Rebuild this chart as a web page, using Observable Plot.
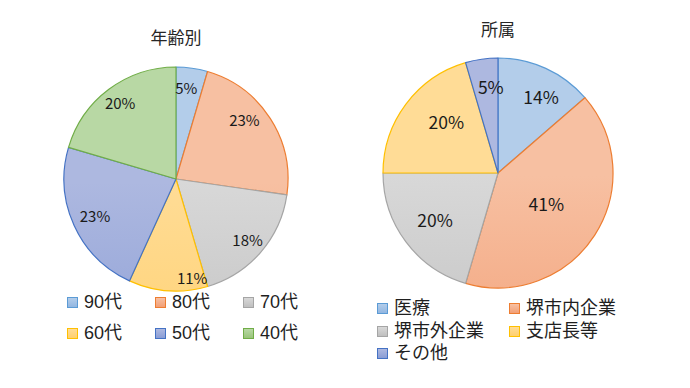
<!DOCTYPE html>
<html>
<head>
<meta charset="utf-8">
<script src="https://cdn.jsdelivr.net/npm/d3@7"></script>
<script src="https://cdn.jsdelivr.net/npm/@observablehq/plot@0.6"></script>
<style>
  html, body { margin: 0; padding: 0; background: #fff; }
  #chart { position: relative; width: 690px; height: 388px; overflow: hidden;
    font-family: "Noto Sans CJK JP", "Noto Sans", sans-serif; color: #333; }
  .abs { position: absolute; }
  .title { font-size: 17px; line-height: 1; transform: translate(-50%, -50%); white-space: nowrap; color: #262626; }
  .leg { font-family: "Liberation Sans", "Noto Sans CJK JP", sans-serif; font-size: 18px; line-height: 18px; height: 18px; white-space: nowrap; display: flex; align-items: center; transform: translateY(-50%); color: #1f1f1f; }
  .leg .tx { display: inline-block; height: 18px; line-height: 18px; }
  .sw { width: 9px; height: 9px; border: 1px solid; margin-right: 6px; box-sizing: content-box; }
</style>
</head>
<body>
<div id="chart"></div>
<script>
// ---- data ----
const ageCategories = ["90代", "80代", "70代", "60代", "50代", "40代"];
const ageCounts = [2, 10, 8, 5, 10, 9];
const orgCategories = ["医療", "堺市内企業", "堺市外企業", "支店長等", "その他"];
const orgCounts = [6, 18, 9, 9, 2];
const titles = ["年齢別", "所属"];

// ---- styles ----
const fillTop = ["#b3cdea", "#f7c0a2", "#d8d8d8", "#ffdc96", "#adb8e0", "#b8d8a4"];
const fillBottom = ["#92b6e1", "#f29f76", "#bfbfbf", "#ffd06e", "#8a9dd5", "#98c479"];
const strokeColors = ["#5b9bd5", "#ed7d31", "#a5a5a5", "#ffc000", "#4472c4", "#70ad47"];
const orgStyle = [0, 1, 2, 3, 4]; // indices into palette

const chart = document.getElementById("chart");
const pct = d3.format(".0%");

function makePie({categories, counts, paletteIdx, cx, cy, r, labelK, labelDA, fontSize, id}) {
  const total = d3.sum(counts);
  const rows = categories.map((c, i) => ({category: c, count: counts[i], p: counts[i] / total, pal: paletteIdx[i]}));
  const arcs = d3.pie().sort(null).value(d => d.count)(rows);
  arcs.forEach((a, i) => {
    a.mid = (a.startAngle + a.endAngle) / 2 + (labelDA[i] || 0) * Math.PI / 180;
    a.k = labelK[i];
  });
  const m = 3;
  const size = 2 * r + 2 * m;
  const render = (index, scales) => {
    const {x, y} = scales;
    const ox = x(0), oy = y(0), rad = x(1) - x(0);
    const g = d3.create("svg:g");
    const defs = g.append("defs");
    arcs.forEach((a, i) => {
      const lg = defs.append("linearGradient").attr("id", id + "g" + i)
        .attr("gradientUnits", "userSpaceOnUse")
        .attr("x1", 0).attr("x2", 0).attr("y1", oy - rad).attr("y2", oy + rad);
      lg.append("stop").attr("offset", 0).attr("stop-color", fillTop[a.data.pal]);
      lg.append("stop").attr("offset", 1).attr("stop-color", fillBottom[a.data.pal]);
    });
    const arcGen = d3.arc().innerRadius(0).outerRadius(rad);
    g.selectAll("path").data(index).join("path")
      .attr("transform", `translate(${ox},${oy})`)
      .attr("d", i => arcGen(arcs[i]))
      .attr("fill", i => `url(#${id}g${i})`)
      .attr("stroke", i => strokeColors[arcs[i].data.pal])
      .attr("stroke-width", 1.2)
      .attr("stroke-linejoin", "round");
    return g.node();
  };
  const svg = Plot.plot({
    width: size, height: size,
    margin: m,
    x: {domain: [-1, 1], axis: null},
    y: {domain: [-1, 1], axis: null},
    style: {background: "transparent", overflow: "visible"},
    marks: [
      Plot.dot(arcs, {x: () => 0, y: () => 0, render}),
      Plot.text(arcs, {
        x: a => a.k * Math.sin(a.mid),
        y: a => a.k * Math.cos(a.mid),
        text: a => pct(a.data.p),
        fontSize, fill: "#1a1a1a",
        fontFamily: "'Noto Sans CJK JP', sans-serif"
      })
    ]
  });
  svg.classList.add("abs");
  svg.style.left = (cx - r - m) + "px";
  svg.style.top = (cy - r - m) + "px";
  chart.appendChild(svg);
  return rows;
}

function addTitle(text, x, y) {
  const d = document.createElement("div");
  d.className = "abs title";
  d.textContent = text;
  d.style.left = x + "px";
  d.style.top = y + "px";
  chart.appendChild(d);
}

function addLegend(rows, positions) {
  rows.forEach((row, i) => {
    const [x, y] = positions[i];
    const d = document.createElement("div");
    d.className = "abs leg";
    d.style.left = x + "px";
    d.style.top = y + "px";
    const sw = document.createElement("span");
    sw.className = "sw";
    sw.style.background = `linear-gradient(${fillTop[row.pal]}, ${fillBottom[row.pal]})`;
    sw.style.borderColor = strokeColors[row.pal];
    d.appendChild(sw);
    const t = document.createElement("span");
    t.className = "tx";
    t.textContent = row.category;
    d.appendChild(t);
    chart.appendChild(d);
  });
}

makePie({
  categories: ageCategories, counts: ageCounts, paletteIdx: [0, 1, 2, 3, 4, 5],
  cx: 176, cy: 179, r: 112,
  labelK: [0.81, 0.8, 0.84, 0.9, 0.8, 0.84],
  labelDA: [-2, -8, 0, -13, 0, 0],
  fontSize: 15, id: "age"
});
const ageRows = ageCategories.map((c, i) => ({category: c, pal: i}));
makePie({
  categories: orgCategories, counts: orgCounts, paletteIdx: orgStyle,
  cx: 497.5, cy: 172.5, r: 115,
  labelK: [0.75, 0.5, 0.69, 0.63, 0.74],
  labelDA: [5, 1, 0, 7, 3],
  fontSize: 17.5, id: "org"
});
const orgRows = orgCategories.map((c, i) => ({category: c, pal: orgStyle[i]}));

addTitle(titles[0], 176, 36);
addTitle(titles[1], 498, 28);

addLegend(ageRows, [[67, 302], [155, 302], [243, 302], [67, 333], [155, 333], [243, 333]]);
addLegend(orgRows, [[377, 308], [509, 308], [377, 331], [509, 331], [377, 353]]);
</script>
</body>
</html>
